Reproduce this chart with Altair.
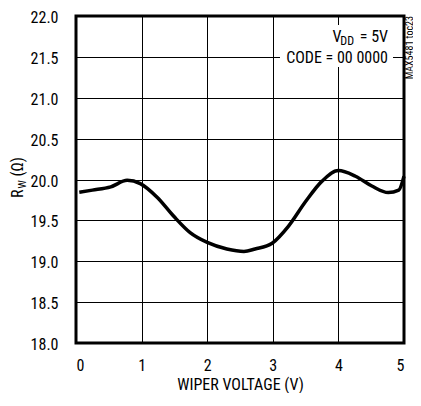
import altair as alt
import pandas as pd

# Curve
wiper_v = [0.05, 0.25, 0.53, 0.78, 0.98, 1.24, 1.49, 1.74, 2.00, 2.30, 2.56,
           2.73, 2.99, 3.24, 3.50, 3.75, 4.00, 4.26, 4.51, 4.76, 4.92, 5.00]
rw_ohm = [19.845, 19.87, 19.91, 19.99, 19.95, 19.78, 19.55, 19.35, 19.23, 19.15, 19.12,
          19.15, 19.22, 19.43, 19.73, 19.98, 20.11, 20.04, 19.92, 19.84, 19.87, 20.04]

x_ticks = [0, 1, 2, 3, 4, 5]
y_ticks = [18.0, 18.5, 19.0, 19.5, 20.0, 20.5, 21.0, 21.5, 22.0]

FONT = "Liberation Sans Narrow, Roboto Condensed, DejaVu Sans Condensed, sans-serif"

df = pd.DataFrame({"v": wiper_v, "r": rw_ohm})
one = pd.DataFrame({"a": [0]})

line = alt.Chart(df).mark_line(color="black", strokeWidth=3.5, interpolate="monotone").encode(
    x=alt.X("v:Q", scale=alt.Scale(domain=[0, 5], nice=False),
            axis=alt.Axis(values=x_ticks, format="d", title="WIPER VOLTAGE (V)",
                          grid=True, gridColor="black", gridWidth=1, gridOpacity=1,
                          ticks=False, tickSize=0, domain=False,
                          labelFontSize=16, labelFont=FONT, labelColor="black",
                          labelPadding=14, titleFont=FONT, titleFontSize=16,
                          titleFontWeight="normal", titleColor="black", titlePadding=3)),
    y=alt.Y("r:Q", scale=alt.Scale(domain=[18, 22], nice=False, zero=False),
            axis=alt.Axis(values=y_ticks, format=".1f", title=None,
                          grid=True, gridColor="black", gridWidth=1, gridOpacity=1,
                          ticks=False, tickSize=0, domain=False,
                          labelFontSize=16, labelFont=FONT, labelColor="black",
                          labelPadding=18, labelBaseline="middle", labelOffset=1.5)),
)

box = alt.Chart(one).mark_rect(color="white").encode(
    x=alt.value(204), x2=alt.value(317), y=alt.value(9), y2=alt.value(51)
)

def txt(s, x, y, size=16, align="right", angle=0, dx=0, dy=0):
    kw = dict(text=s, fontSize=size, font=FONT, color="black", align=align,
              baseline="alphabetic", dx=dx, dy=dy)
    if angle:
        kw["angle"] = angle
    return alt.Chart(one).mark_text(**kw).encode(x=alt.value(x), y=alt.value(y))

labels = [
    txt("CODE = 00 0000", 312, 46.5),
    txt("= 5V", 312, 26),
    txt("DD", 278, 28.5, size=12),
    txt("V", 265.5, 26),
    # y-axis title R_W (Ω), rotated
    txt("R", -53.5, 182, align="left", angle=270),
    txt("W", -53.5, 182, size=11, align="left", angle=270, dx=9.5, dy=3),
    txt("(Ω)", -53.5, 182, align="left", angle=270, dx=21.5),
    # side note
    txt("MAX5481 toc23", 336.5, 0, size=10, align="right", angle=270),
]

chart = alt.layer(box, line, *labels).properties(
    width=328, height=327,
    autosize=alt.AutoSizeParams(type="none"),
    padding={"left": 68, "top": 8, "right": 9, "bottom": 50},
).configure_view(stroke="black", strokeWidth=3)

chart.save("out.html", embed_options={"renderer": "svg", "actions": False})
